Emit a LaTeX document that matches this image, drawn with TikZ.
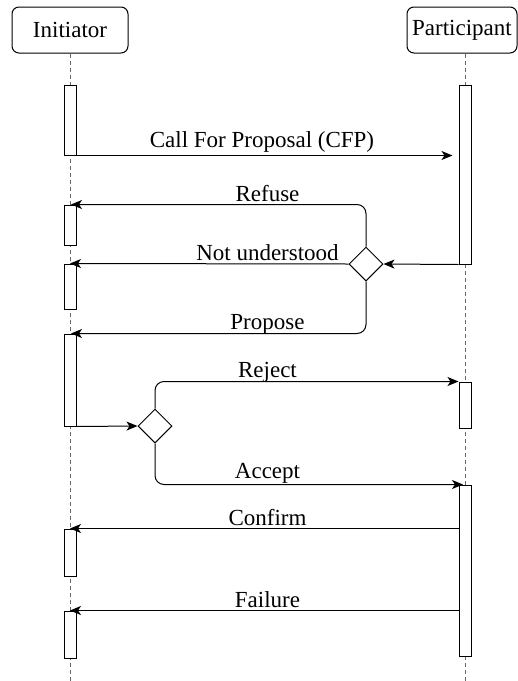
\documentclass[tikz,border=0pt]{standalone}
\usepackage{fontspec}
\setmainfont{Liberation Serif}
\usetikzlibrary{shapes.geometric,arrows.meta}
\begin{document}
\begin{tikzpicture}[x=1pt,y=-1pt,
  every node/.style={font=\fontsize{23}{27}\selectfont},
  actor/.style={draw, line width=1pt, rounded corners=7pt, minimum height=46pt, inner sep=0pt},
  life/.style={draw=black!60, line width=1pt, dash pattern=on 4pt off 3pt},
  act/.style={draw, fill=white, line width=1pt, minimum width=12pt, inner sep=0pt},
  dec/.style={diamond, draw, fill=white, line width=1pt, minimum width=34pt, minimum height=34pt, inner sep=0pt, shape aspect=1},
  msg/.style={draw, line width=1pt, rounded corners=9pt, -{Stealth[length=11pt,width=9pt,inset=3pt]}},
  lbl/.style={anchor=base, inner sep=0pt}]
\useasboundingbox (0,0) rectangle (518,681);

% actors
\node[actor, minimum width=116pt] (ini) at (70,30) {Initiator};
\node[actor, minimum width=110pt] (part) at (462,30) {Participant};
\coordinate (iend) at (70,681);
\coordinate (pend) at (465,681);

% lifelines
\draw[life] (ini.south) -- (iend);
\draw[life] (part.south -| pend) -- (pend);

% activations
\node[act, minimum height=70pt] (a1) at (70,120) {};
\node[act, minimum height=40pt] (a2) at (70,225) {};
\node[act, minimum height=45pt] (a3) at (70,286.5) {};
\node[act, minimum height=92pt] (a4) at (70,380) {};
\node[act, minimum height=47pt] (a6) at (70,552.5) {};
\node[act, minimum height=47pt] (a7) at (70,634.5) {};
\node[act, minimum height=179pt] (p1) at (465,174.5) {};
\node[act, minimum height=46pt] (p2) at (465,405) {};
\node[act, minimum height=171pt] (p3) at (465,570.5) {};

% decisions
\node[dec] (d1) at (366,264) {};
\node[dec] (d2) at (155,426) {};

% messages
\draw[msg] (a1.south east) -- ([xshift=-6pt]p1.west |- a1.south east);
\draw[msg] (p1.south west) -- (d1.east);
\draw[msg] (d1.north) |- ([xshift=1pt]a2.north);
\draw[msg] (d1.west) -- (a3.north);
\draw[msg] (d1.south) |- ([xshift=1pt]a4.north);
\draw[msg] (a4.south east) -- (d2.west);
\draw[msg] (d2.north) |- (p2.north west);
\draw[msg] (d2.south) |- ([xshift=-2pt]p3.north);
\draw[msg] (p3.west |- a6.north) -- (a6.north);
\draw[msg] (p3.west |- a7.north) -- (a7.north);

% labels
\node[lbl] (lcfp) at (262,147) {Call For Proposal (CFP)};
\node[lbl] (lref) at (267.5,201.5) {Refuse};
\node[lbl] (lnu) at (267.5,260) {Not understood};
\node[lbl] (lpro) at (267.5,329) {Propose};
\node[lbl] (lrej) at (267.5,377) {Reject};
\node[lbl] (lacc) at (267.5,478) {Accept};
\node[lbl] (lcon) at (267.5,525) {Confirm};
\node[lbl] (lfail) at (267.5,607) {Failure};
\end{tikzpicture}
\end{document}
